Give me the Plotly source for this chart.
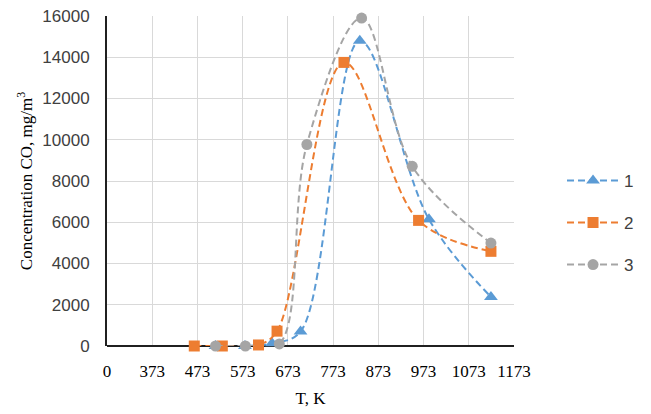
import plotly.graph_objects as go

# Series data (T in K, CO concentration in mg/m3)
t1 = [513, 578, 638, 701, 832, 985, 1122]
c1 = [0, 0, 130, 700, 14800, 6140, 2380]

t2 = [466, 528, 608, 649, 797, 962, 1122]
c2 = [0, 0, 50, 720, 13750, 6090, 4590]

t3 = [513, 579, 654, 715, 836, 948, 1122]
c3 = [0, 0, 100, 9770, 15900, 8710, 4990]

names = ["1", "2", "3"]
x_tickvals = [273, 373, 473, 573, 673, 773, 873, 973, 1073, 1173]
x_ticktext = ["0", "373", "473", "573", "673", "773", "873", "973", "1073", "1173"]
y_tickvals = [0, 2000, 4000, 6000, 8000, 10000, 12000, 14000, 16000]

colors = ["#5B9BD5", "#ED7D31", "#A5A5A5"]
symbols = ["triangle-up", "square", "circle"]
sizes = [12, 11, 11]

fig = go.Figure()
for i, (t, c) in enumerate([(t1, c1), (t2, c2), (t3, c3)]):
    fig.add_trace(go.Scatter(
        x=t, y=c, name=names[i], mode="lines+markers",
        line=dict(color=colors[i], width=2, dash="7px,4px", shape="spline", smoothing=1.0),
        marker=dict(symbol=symbols[i], size=sizes[i], color=colors[i]),
        legendgroup=names[i], cliponaxis=False,
    ))

fig.update_layout(
    width=651, height=414,
    margin=dict(l=107, r=132, t=16, b=68),
    paper_bgcolor="white", plot_bgcolor="white",
    showlegend=True,
    legend=dict(x=1.118, y=0.555, xanchor="left", yanchor="top", itemwidth=52,
                font=dict(family="Liberation Sans", size=17, color="#404040"),
                traceorder="grouped", tracegroupgap=17, bgcolor="rgba(0,0,0,0)"),
    xaxis=dict(range=[273, 1173], tickvals=x_tickvals, ticktext=x_ticktext,
               automargin=False,
               showgrid=True, gridcolor="#D9D9D9", gridwidth=1,
               showline=False, zeroline=False, ticks="", ticklabelstandoff=13,
               tickfont=dict(family="Liberation Serif", size=17, color="#000000"),
               title=dict(text="T, K", font=dict(family="Liberation Serif", size=17, color="#000000"), standoff=12)),
    yaxis=dict(range=[0, 16000], tickvals=y_tickvals,
               automargin=False,
               showgrid=True, gridcolor="#D9D9D9", gridwidth=1,
               showline=True, linecolor="#202020", linewidth=2,
               zeroline=True, zerolinecolor="#202020", zerolinewidth=2,
               ticks="", tickformat="d", ticklabelstandoff=12,
               tickfont=dict(family="Liberation Sans", size=17, color="#404040"),
               title=dict(text="Concentration CO, mg/m<sup>3</sup>",
                          font=dict(family="Liberation Serif", size=17, color="#000000"), standoff=5)),
)

fig.write_html("out.html", config={"displayModeBar": False},
               post_script="document.body.style.margin='0';")
